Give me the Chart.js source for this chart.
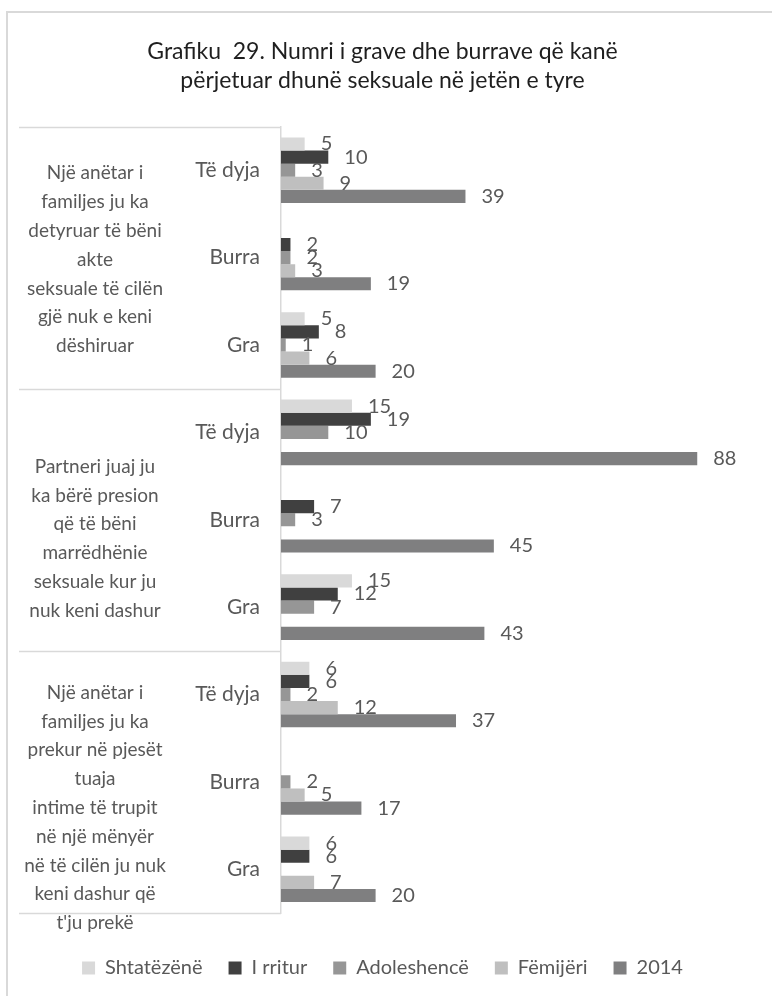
<!DOCTYPE html>
<html>
<head>
<meta charset="utf-8">
<script src="https://cdn.jsdelivr.net/npm/chart.js@4.4.1/dist/chart.umd.min.js"></script>
<style>
  html, body { margin: 0; padding: 0; background: #fff; }
  .frame { position: absolute; left: 6px; top: 11px; width: 800px; height: 1000px; border: 2px solid #d9d9d9; box-sizing: border-box; }
  .wrap { position: absolute; left: 0; top: 0; width: 772px; height: 996px; }
</style>
</head>
<body>
<div class="frame"></div>
<div class="wrap"><canvas id="chart" width="772" height="996"></canvas></div>
<script>
const categories = ["Të dyja", "Burra", "Gra", "Të dyja", "Burra", "Gra", "Të dyja", "Burra", "Gra"];
const groupLabels = [
  ["Një anëtar i", "familjes ju ka", "detyruar të bëni", "akte", "seksuale të cilën", "gjë nuk e keni", "dëshiruar"],
  ["Partneri juaj ju", "ka bërë presion", "që të bëni", "marrëdhënie", "seksuale kur ju", "nuk keni dashur"],
  ["Një anëtar i", "familjes ju ka", "prekur në pjesët", "tuaja", "intime të trupit", "në një mënyër", "në të cilën ju nuk", "keni dashur që", "t'ju prekë"]
];
const seriesNames = ["Shtatëzënë", "I rritur", "Adoleshencë", "Fëmijëri", "2014"];
const shtatezene = [5, 0, 5, 15, 0, 15, 6, 0, 6];
const iRritur = [10, 2, 8, 19, 7, 12, 6, 0, 6];
const adoleshence = [3, 2, 1, 10, 3, 7, 2, 2, 0];
const femijeri = [9, 3, 6, 0, 0, 0, 12, 5, 7];
const viti2014 = [39, 19, 20, 88, 45, 43, 37, 17, 20];
const colors = ["#d9d9d9", "#404040", "#969696", "#bfbfbf", "#7f7f80"];

const FONT = "Lato, 'Open Sans', sans-serif";
const TEXT = "#595959";

// value labels next to each bar (zeros are skipped)
const valueLabels = {
  id: "valueLabels",
  afterDatasetsDraw(chart) {
    const ctx = chart.ctx;
    ctx.save();
    ctx.font = "20px " + FONT;
    ctx.fillStyle = TEXT;
    ctx.textAlign = "left";
    ctx.textBaseline = "middle";
    chart.data.datasets.forEach((ds, i) => {
      chart.getDatasetMeta(i).data.forEach((bar, j) => {
        if (!ds.data[j]) return;
        ctx.fillText(String(ds.data[j]), bar.x + 16, bar.y);
      });
    });
    ctx.restore();
  }
};

// group labels on the left with separator lines
const groupAxis = {
  id: "groupAxis",
  afterDraw(chart) {
    const ctx = chart.ctx;
    const y = chart.scales.y;
    const area = chart.chartArea;
    const step = y.getPixelForValue(1) - y.getPixelForValue(0);
    const shifts = [2, 19, 26];
    ctx.save();
    ctx.strokeStyle = "#d9d9d9";
    ctx.lineWidth = 1.5;
    for (let g = 0; g <= groupLabels.length; g++) {
      const py = Math.round(y.getPixelForValue(g * 3) - step / 2) + 0.5;
      ctx.beginPath();
      ctx.moveTo(19, py);
      ctx.lineTo(area.left, py);
      ctx.stroke();
    }
    ctx.font = "19px " + FONT;
    ctx.fillStyle = TEXT;
    ctx.textAlign = "center";
    ctx.textBaseline = "middle";
    const lh = 28.8;
    groupLabels.forEach((lines, g) => {
      const cy = y.getPixelForValue(g * 3 + 1) + shifts[g];
      const top = cy - (lines.length - 1) * lh / 2;
      lines.forEach((t, k) => ctx.fillText(t, 95, top + k * lh));
    });
    ctx.restore();
  }
};

const seriesData = [shtatezene, iRritur, adoleshence, femijeri, viti2014];

new Chart(document.getElementById("chart"), {
  type: "bar",
  data: {
    labels: categories,
    datasets: seriesNames.map((name, i) => ({
      label: name,
      data: seriesData[i],
      backgroundColor: colors[i],
      borderWidth: 0,
      categoryPercentage: 0.75,
      barPercentage: 1
    }))
  },
  options: {
    indexAxis: "y",
    responsive: false,
    animation: false,
    layout: { padding: { left: 11, right: 18, bottom: 8 } },
    scales: {
      x: {
        min: 0, max: 100,
        ticks: { display: false },
        grid: { display: false },
        border: { display: false },
        afterFit(scale) { scale.height = 19; }
      },
      y: {
        afterFit(scale) { scale.width = 270; },
        grid: { drawOnChartArea: false, drawTicks: false },
        border: { color: "#d9d9d9", width: 1.5 },
        ticks: { color: TEXT, font: { size: 21, family: FONT }, padding: 21 }
      }
    },
    plugins: {
      title: {
        display: true,
        text: ["Grafiku  29. Numri i grave dhe burrave që kanë", "përjetuar dhunë seksuale në jetën e tyre"],
        color: "#1f1f1f",
        font: { size: 23, family: FONT, weight: "normal", lineHeight: 1.25 },
        padding: { top: 37, bottom: 32 }
      },
      legend: {
        position: "bottom",
        labels: {
          color: TEXT,
          font: { size: 20, family: FONT },
          boxWidth: 13,
          boxHeight: 13,
          padding: 26
        }
      },
      tooltip: { enabled: false }
    }
  },
  plugins: [valueLabels, groupAxis]
});
</script>
</body>
</html>
